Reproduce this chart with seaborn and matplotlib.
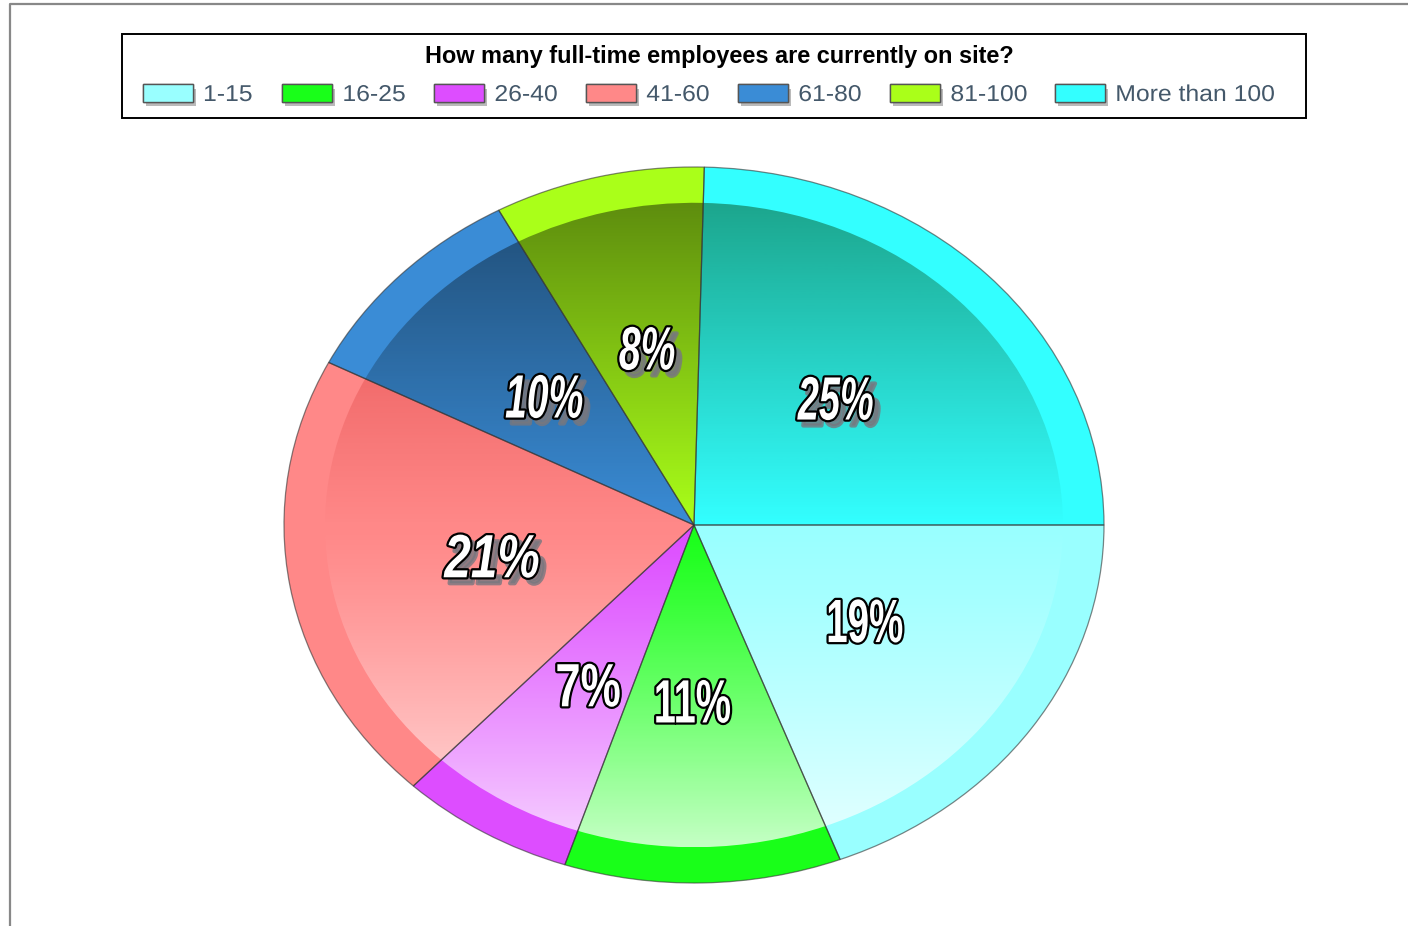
import numpy as np
import matplotlib
matplotlib.use('Agg')
import matplotlib.pyplot as plt
import seaborn as sns
from matplotlib.colors import to_rgb, to_rgba
from matplotlib.patches import Patch, Rectangle, Wedge
from matplotlib.lines import Line2D
from matplotlib.patheffects import AbstractPathEffect, Normal, withSimplePatchShadow
from matplotlib.transforms import Affine2D

title = 'How many full-time employees are currently on site?'
categories = ['1-15', '16-25', '26-40', '41-60', '61-80', '81-100', 'More than 100']
shares = [19.2, 10.9, 6.9, 20.5, 9.6, 8.3, 24.6]
pct_labels = ['19%', '11%', '7%', '21%', '10%', '8%', '25%']
colors = ['#99FFFF', '#19FF19', '#DD4DFF', '#FF8888', '#3A8CD6', '#AAFF19', '#33FFFF']
# colour the top of each slice fades towards
shade_colors = ['#000000', '#000000', '#000000', '#C00000', '#000000', '#000000', '#003800']
# how narrow each label is drawn, and its nudge in pixels
label_squash = [0.63, 0.65, 0.74, 0.78, 0.64, 0.64, 0.62]
label_nudge = [(2, 0), (-6, -3), (-1, -12), (0, -6), (-3, -2), (1, -3), (-5, -4)]


class Squash(AbstractPathEffect):
    # scales text in x around an anchor, the installed fonts have the wrong width
    def __init__(self, cx, cy, sx, offset=(0, 0), lw=0, color='k'):
        super().__init__()
        self.cx, self.cy, self.sx = cx, cy, sx
        self.off, self.lw, self.color = offset, lw, color

    def draw_path(self, renderer, gc, tpath, affine, rgbFace=None):
        tf = affine + Affine2D().translate(-self.cx, -self.cy).scale(self.sx, 1).translate(
            self.cx + self.off[0], self.cy + self.off[1])
        gc0 = renderer.new_gc()
        gc0.copy_properties(gc)
        gc0.set_foreground(self.color)
        gc0.set_linewidth(self.lw)
        renderer.draw_path(gc0, tpath, tf, to_rgba(self.color))
        gc0.restore()


sns.set_theme(style='white')
plt.rcParams['font.family'] = ['Liberation Sans', 'DejaVu Sans']
palette = sns.color_palette(colors)

W, H = 1408, 926
fig = plt.figure(figsize=(W / 100, H / 100), dpi=100, facecolor='white')
ax = fig.add_axes([284 / W, 1 - 883 / H, 820 / W, 716 / H])

wedges, _ = ax.pie(shares, colors=palette, startangle=0, counterclock=False,
                   wedgeprops=dict(linewidth=0, clip_on=False))

# inner glossy part: dark at the top, clear in the middle, white at the bottom
t = np.linspace(-1, 1, 256)
for wedge, dark in zip(wedges, shade_colors):
    shade = np.zeros((256, 1, 4))
    shade[:, 0, :3] = np.where(t[:, None] > 0, 1.0, np.array(to_rgb(dark))[None, :])
    shade[:, 0, 3] = np.where(t > 0, 0.75 * np.abs(t) ** 1.2, 0.45 * np.abs(t))
    im = ax.imshow(shade, extent=(-1, 1, -0.9, 0.9), aspect='auto', zorder=2, origin='upper')
    im.set_clip_path(Wedge((0, 0), 0.9, wedge.theta1, wedge.theta2, transform=ax.transData))

_, _, pct_texts = ax.pie(shares, startangle=0, counterclock=False, autopct='%.0f%%',
                         pctdistance=0.5,
                         wedgeprops=dict(facecolor='none', edgecolor='#33333399',
                                         linewidth=0.9, clip_on=False, zorder=3))
ax.set_aspect('auto')
ax.set_xlim(-1, 1)
ax.set_ylim(-1, 1)
ax.axis('off')

for i, (txt, lab) in enumerate(zip(pct_texts, pct_labels)):
    txt.set_text(lab)
    txt.set_zorder(5)
    txt.set_fontsize(44)
    txt.set_fontweight('bold')
    tilted = i >= 3
    txt.set_fontstyle('italic' if tilted else 'normal')
    cx, cy = txt.get_transform().transform(txt.get_position())
    nx, ny = label_nudge[i]
    sx = label_squash[i]
    effects = []
    if tilted:
        effects.append(Squash(cx, cy, sx, offset=(nx + 6, ny - 6), lw=3, color='#77777fcc'))
    effects.append(Squash(cx, cy, sx, offset=(nx, ny), lw=3.2, color='black'))
    effects.append(Squash(cx, cy, sx, offset=(nx, ny), lw=0, color='white'))
    txt.set_path_effects(effects)

handles = [Patch(facecolor=c, edgecolor='#555555', linewidth=1.0) for c in palette]
leg = fig.legend(handles, categories, ncol=7, loc='upper left',
                 bbox_to_anchor=(143 / W, 1 - 83 / H), fontsize=16.5, frameon=False,
                 handlelength=2.18, handleheight=0.79, handletextpad=0.44, columnspacing=1.46,
                 borderaxespad=0, borderpad=0, labelspacing=0)
for h in leg.get_patches():
    h.set_path_effects([withSimplePatchShadow(offset=(2, -3), shadow_rgbFace='#777777', alpha=0.5),
                        Normal()])
fig.canvas.draw()
legend_color = '#44586a'
for lt in leg.get_texts():
    lt.set_color(legend_color)
    lt.set_path_effects([Squash(lt.get_window_extent().x0, 0, 1.08, lw=0, color=legend_color)])

fig.add_artist(Rectangle((122 / W, 1 - 118 / H), 1184 / W, 84 / H, transform=fig.transFigure,
                         fill=False, edgecolor='black', linewidth=1.4))
fig.text(719 / W, 1 - 57 / H, title, ha='center', va='center', fontsize=16.9,
         fontweight='bold', color='black')

# page border of the screenshot
fig.add_artist(Line2D([10 / W, 10 / W, 1], [0, 1 - 4 / H, 1 - 4 / H], color='#888888', linewidth=1.6))

fig.savefig('out.png', dpi=100)
